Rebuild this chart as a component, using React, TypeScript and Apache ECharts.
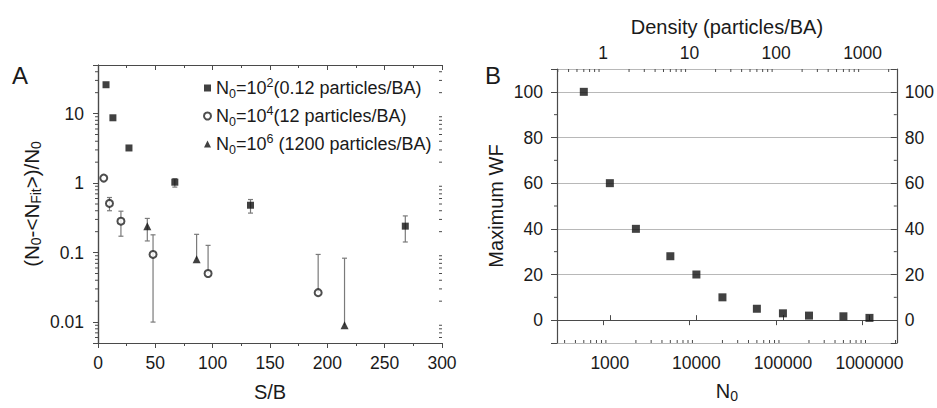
import React, { useEffect, useRef } from 'react';
import * as echarts from 'echarts';

const FONT = '"Liberation Sans", Arial, Helvetica, sans-serif';
const AXIS = '#4a4a4a';
const TEXT = '#1a1a1a';
const GRIDLINE = '#b8b8b8';
const ERR = '#7a7a7a';

// ---------- Panel A data ----------
const sbA = [7, 13, 27, 67, 133, 268];
const valA = [26, 8.7, 3.2, 1.03, 0.48, 0.24];
const loA = [26, 8.7, 3.2, 0.875, 0.37, 0.142];
const hiA = [26, 8.7, 3.2, 1.16, 0.58, 0.337];

const sbB = [5, 10, 20, 48, 96, 192];
const valB = [1.18, 0.51, 0.283, 0.094, 0.05, 0.0265];
const loB = [1.18, 0.4, 0.172, 0.01, 0.05, 0.0265];
const hiB = [1.18, 0.62, 0.394, 0.18, 0.127, 0.094];

const sbC = [43, 86, 215];
const valC = [0.24, 0.08, 0.009];
const loC = [0.147, 0.08, 0.009];
const hiC = [0.31, 0.183, 0.083];

const seriesNamesA = ['N0=10^2', 'N0=10^4', 'N0=10^6'];
const legendLabelsA = [
  'N{sub|0}=10{sup|2}(0.12 particles/BA)',
  'N{sub|0}=10{sup|4}(12 particles/BA)',
  'N{sub|0}=10{sup|6} (1200 particles/BA)',
];
const xRangeA = [0, 300];
const xStepA = 50;
const yRangeA = [0.005, 50];
const yTicksA = [0.01, 0.1, 1, 10];
const yTickLabelsA = ['0.01', '0.1', '1', '10'];

// ---------- Panel B data ----------
const n0 = [500, 1000, 2000, 5000, 10000, 20000, 50000, 100000, 200000, 500000, 1000000];
const wf = [100, 60, 40, 28, 20, 10, 5, 3, 2, 1.7, 1];
const n0Range = [245, 2.07e6];
const n0Ticks = [1000, 10000, 100000, 1000000];
const densityPerN0 = 0.0012;
const densityTicks = [1, 10, 100, 1000];
const wfRange = [-10, 110];
const wfTicks = [0, 20, 40, 60, 80, 100];
const wfMinorTicks = [10, 30, 50, 70, 90];
const logMantissas = [2, 3, 4, 5, 6, 7, 8, 9];

function matchTick(v: number, ticks: number[]): number {
  for (let i = 0; i < ticks.length; i++) {
    if (Math.abs(v - ticks[i]) <= Math.abs(ticks[i]) * 1e-6 + 1e-9) return i;
  }
  return -1;
}

function logMinors(min: number, max: number): number[] {
  const out: number[] = [];
  const e0 = Math.floor(Math.log10(min));
  const e1 = Math.ceil(Math.log10(max));
  for (let e = e0; e <= e1; e++) {
    for (const m of logMantissas) {
      const v = m * Math.pow(10, e);
      if (v > min * 1.0001 && v < max * 0.9999) out.push(v);
    }
  }
  return out;
}

// dir: 0 left, 1 right, 2 up, 3 down
function tickSeries(xAxisIndex: number, yAxisIndex: number, data: number[][]) {
  return {
    type: 'custom',
    xAxisIndex,
    yAxisIndex,
    silent: true,
    clip: false,
    z: 6,
    encode: { x: 0, y: 1 },
    data,
    renderItem: (params: any, api: any) => {
      const p = api.coord([api.value(0), api.value(1)]);
      const dir = api.value(2);
      const len = api.value(3);
      let x2 = p[0];
      let y2 = p[1];
      if (dir === 0) x2 -= len;
      else if (dir === 1) x2 += len;
      else if (dir === 2) y2 -= len;
      else y2 += len;
      return {
        type: 'line',
        shape: { x1: p[0], y1: p[1], x2, y2 },
        style: { stroke: AXIS, lineWidth: 1 },
      };
    },
  };
}

function errSeries(xs: number[], lo: number[], hi: number[], val: number[]) {
  return {
    type: 'custom',
    xAxisIndex: 0,
    yAxisIndex: 0,
    silent: true,
    clip: false,
    z: 2,
    encode: { x: 0, y: [1, 2] },
    data: xs.map((x, i) => [x, lo[i], hi[i], val[i]]),
    renderItem: (params: any, api: any) => {
      const x = api.value(0);
      const l = api.value(1);
      const h = api.value(2);
      const v = api.value(3);
      const children: any[] = [];
      if (h > l) {
        const top = api.coord([x, h]);
        const bot = api.coord([x, l]);
        const st = { stroke: ERR, lineWidth: 1.2 };
        children.push({ type: 'line', shape: { x1: top[0], y1: top[1], x2: bot[0], y2: bot[1] }, style: st });
        if (h > v) children.push({ type: 'line', shape: { x1: top[0] - 2.5, y1: top[1], x2: top[0] + 2.5, y2: top[1] }, style: st });
        if (l < v) children.push({ type: 'line', shape: { x1: bot[0] - 2.5, y1: bot[1], x2: bot[0] + 2.5, y2: bot[1] }, style: st });
      }
      return { type: 'group', children };
    },
  };
}

const subRich = (size: number) => ({
  sub: { fontFamily: FONT, fontSize: size, color: TEXT, verticalAlign: 'bottom', lineHeight: size },
  sup: { fontFamily: FONT, fontSize: size, color: TEXT, verticalAlign: 'top', lineHeight: size },
});

export default function App() {
  const ref = useRef<HTMLDivElement>(null);

  useEffect(() => {
    if (!ref.current) return;
    const chart = echarts.init(ref.current, null, { renderer: 'svg' });

    const axisLine = { show: true, lineStyle: { color: AXIS, width: 1.2 } };
    const labelStyle = { fontFamily: FONT, fontSize: 17.5, color: TEXT };
    const nameStyle = (lh: number, size = 20, subSize = 14) => ({
      fontFamily: FONT,
      fontSize: size,
      color: TEXT,
      lineHeight: lh,
      rich: subRich(subSize),
    });

    // minor ticks
    const minorA: number[][] = [];
    for (const v of logMinors(yRangeA[0], yRangeA[1])) {
      minorA.push([xRangeA[0], v, 0, 3]);
      minorA.push([xRangeA[1], v, 0, 3]);
    }
    const minorB: number[][] = [];
    for (const v of logMinors(n0Range[0], n0Range[1])) minorB.push([v, wfRange[0], 2, 3]);
    for (const d of logMinors(n0Range[0] * densityPerN0, n0Range[1] * densityPerN0))
      minorB.push([d / densityPerN0, wfRange[1], 3, 3]);
    for (const v of wfMinorTicks) {
      minorB.push([n0Range[0], v, 0, 3]);
      minorB.push([n0Range[1], v, 0, 3]);
    }

    const option: any = {
      animation: false,
      backgroundColor: '#ffffff',
      textStyle: { fontFamily: FONT },
      grid: [
        { left: 98, top: 65, width: 344, height: 278 },
        { left: 557, top: 69, width: 343, height: 275 },
      ],
      graphic: [
        { type: 'text', left: 12, top: 63, style: { text: 'A', fontFamily: FONT, fontSize: 24, fill: TEXT } },
        { type: 'text', left: 485, top: 63, style: { text: 'B', fontFamily: FONT, fontSize: 24, fill: TEXT } },
      ],
      legend: {
        data: [
          { name: seriesNamesA[0], icon: 'rect' },
          { name: seriesNamesA[1], icon: 'emptyCircle' },
          { name: seriesNamesA[2], icon: 'triangle' },
        ],
        orient: 'vertical',
        left: 198,
        top: 71,
        itemWidth: 7,
        itemHeight: 7,
        itemGap: 4,
        selectedMode: false,
        formatter: (name: string) => legendLabelsA[seriesNamesA.indexOf(name)],
        textStyle: { fontFamily: FONT, fontSize: 18, color: TEXT, lineHeight: 24, rich: subRich(12.5) },
      },
      xAxis: [
        {
          gridIndex: 0,
          type: 'value',
          position: 'bottom',
          min: xRangeA[0],
          max: xRangeA[1],
          interval: xStepA,
          axisLine,
          axisTick: { show: true, inside: false, length: 5, lineStyle: { color: AXIS } },
          minorTick: { show: true, splitNumber: 2, length: 3, lineStyle: { color: AXIS } },
          axisLabel: { ...labelStyle, margin: 11 },
          splitLine: { show: false },
          name: 'S/B',
          nameLocation: 'middle',
          nameGap: 38,
          nameTextStyle: nameStyle(22),
        },
        {
          gridIndex: 0,
          type: 'value',
          position: 'top',
          min: xRangeA[0],
          max: xRangeA[1],
          interval: xStepA,
          axisLine,
          axisTick: { show: true, inside: true, length: 5, lineStyle: { color: AXIS } },
          minorTick: { show: true, splitNumber: 2, length: 3, lineStyle: { color: AXIS } },
          axisLabel: { show: false },
          splitLine: { show: false },
        },
        {
          gridIndex: 1,
          type: 'log',
          position: 'bottom',
          min: n0Range[0],
          max: n0Range[1],
          axisLine,
          axisTick: { show: true, inside: true, length: 5, lineStyle: { color: AXIS } },
          axisLabel: {
            ...labelStyle,
            margin: 11,
            formatter: (v: number) => {
              const i = matchTick(v, n0Ticks);
              return i >= 0 ? String(n0Ticks[i]) : '';
            },
          },
          splitLine: { show: false },
          name: 'N{sub|0}',
          nameLocation: 'middle',
          nameGap: 36,
          nameTextStyle: nameStyle(24),
        },
        {
          gridIndex: 1,
          type: 'log',
          position: 'top',
          min: n0Range[0] * densityPerN0,
          max: n0Range[1] * densityPerN0,
          axisLine,
          axisTick: { show: true, inside: true, length: 5, lineStyle: { color: AXIS } },
          axisLabel: {
            ...labelStyle,
            margin: 7,
            formatter: (v: number) => {
              const i = matchTick(v, densityTicks);
              return i >= 0 ? String(densityTicks[i]) : '';
            },
          },
          splitLine: { show: false },
          name: 'Density (particles/BA)',
          nameLocation: 'middle',
          nameGap: 31,
          nameTextStyle: nameStyle(22),
        },
      ],
      yAxis: [
        {
          gridIndex: 0,
          type: 'log',
          position: 'left',
          min: yRangeA[0],
          max: yRangeA[1],
          axisLine,
          axisTick: { show: true, inside: false, length: 5, lineStyle: { color: AXIS } },
          axisLabel: {
            ...labelStyle,
            margin: 14,
            formatter: (v: number) => {
              const i = matchTick(v, yTicksA);
              return i >= 0 ? yTickLabelsA[i] : '';
            },
          },
          splitLine: { show: false },
          name: '(N{sub|0}-<N{sub|Fit}>)/N{sub|0}',
          nameLocation: 'middle',
          nameRotate: 90,
          nameGap: 55,
          nameTextStyle: nameStyle(24, 20.5, 14),
        },
        {
          gridIndex: 0,
          type: 'log',
          position: 'right',
          min: yRangeA[0],
          max: yRangeA[1],
          axisLine,
          axisTick: { show: true, inside: true, length: 5, lineStyle: { color: AXIS } },
          axisLabel: { show: false },
          splitLine: { show: false },
        },
        {
          gridIndex: 1,
          type: 'value',
          position: 'left',
          min: wfRange[0],
          max: wfRange[1],
          axisLine,
          axisTick: { show: true, inside: false, length: 6, lineStyle: { color: AXIS } },
          axisLabel: {
            ...labelStyle,
            margin: 14,
            formatter: (v: number) => (matchTick(v, wfTicks) >= 0 ? String(v) : ''),
          },
          splitLine: { show: true, lineStyle: { color: GRIDLINE, width: 1 } },
          name: 'Maximum WF',
          nameLocation: 'middle',
          nameRotate: 90,
          nameGap: 50,
          nameTextStyle: nameStyle(22),
        },
        {
          gridIndex: 1,
          type: 'value',
          position: 'right',
          min: wfRange[0],
          max: wfRange[1],
          axisLine,
          axisTick: { show: true, inside: true, length: 6, lineStyle: { color: AXIS } },
          axisLabel: {
            ...labelStyle,
            margin: 8,
            formatter: (v: number) => (matchTick(v, wfTicks) >= 0 ? String(v) : ''),
          },
          splitLine: { show: false },
        },
      ],
      series: [
        errSeries(sbA, loA, hiA, valA),
        errSeries(sbB, loB, hiB, valB),
        errSeries(sbC, loC, hiC, valC),
        {
          name: seriesNamesA[0],
          type: 'scatter',
          xAxisIndex: 0,
          yAxisIndex: 0,
          symbol: 'rect',
          symbolSize: 7,
          z: 4,
          itemStyle: { color: '#111' },
          data: sbA.map((x, i) => [x, valA[i]]),
        },
        {
          name: seriesNamesA[1],
          type: 'scatter',
          xAxisIndex: 0,
          yAxisIndex: 0,
          symbol: 'emptyCircle',
          symbolSize: 7,
          z: 4,
          itemStyle: { color: '#222', borderWidth: 1 },
          data: sbB.map((x, i) => [x, valB[i]]),
        },
        {
          name: seriesNamesA[2],
          type: 'scatter',
          xAxisIndex: 0,
          yAxisIndex: 0,
          symbol: 'triangle',
          symbolSize: 8,
          z: 4,
          itemStyle: { color: '#111' },
          data: sbC.map((x, i) => [x, valC[i]]),
        },
        {
          name: 'Maximum WF',
          type: 'scatter',
          xAxisIndex: 2,
          yAxisIndex: 2,
          symbol: 'rect',
          symbolSize: 8,
          z: 4,
          itemStyle: { color: '#111' },
          data: n0.map((x, i) => [x, wf[i]]),
        },
        tickSeries(0, 0, minorA),
        tickSeries(2, 2, minorB),
      ],
    };

    chart.setOption(option);
    return () => {
      chart.dispose();
    };
  }, []);

  return (
    <div
      ref={ref}
      style={{ position: 'fixed', left: 0, top: 0, width: 937, height: 408, background: '#fff' }}
    />
  );
}
